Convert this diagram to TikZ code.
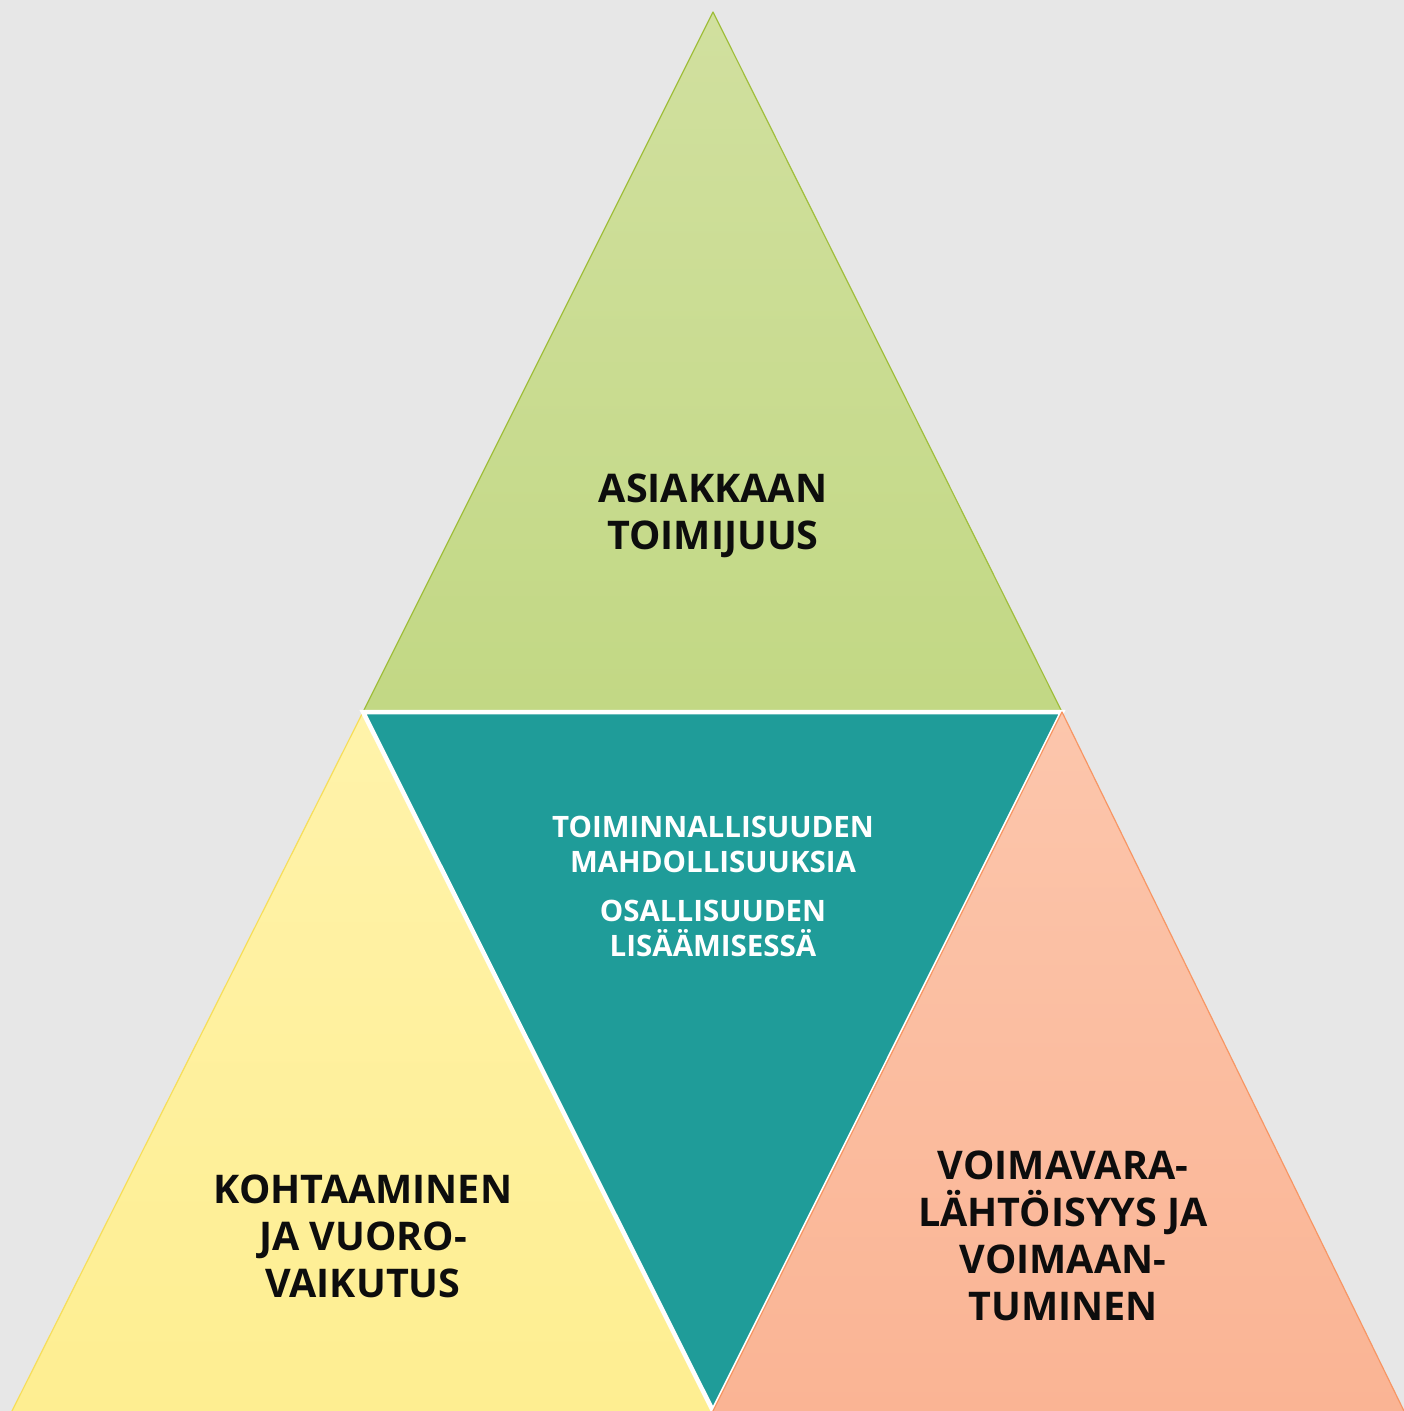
\documentclass[tikz,border=0pt]{standalone}
\usepackage{fontspec}
\setmainfont{Open Sans}
\begin{document}
\begin{tikzpicture}[x=1pt,y=-1pt,
  bigtext/.style={font=\fontsize{39.5}{47}\selectfont\bfseries, text=black!95, align=center, inner sep=0pt},
  smalltext/.style={font=\fontsize{29.5}{35}\selectfont\bfseries, text=white, align=center, inner sep=0pt}]
  % background
  \fill[fill={rgb,255:red,231;green,231;blue,231}] (0,0) rectangle (1404,1411);
  \useasboundingbox (0,0) rectangle (1404,1411);
  % corner points of the four triangles
  \coordinate (apex) at (713,12);
  \coordinate (ml) at (363,712);
  \coordinate (mr) at (1062,712);
  \coordinate (bl) at (12,1411);
  \coordinate (bm) at (713,1411);
  \coordinate (br) at (1404,1411);
  % top: green
  \shade[top color={rgb,255:red,209;green,224;blue,159}, bottom color={rgb,255:red,194;green,216;blue,132}]
    (apex) -- (mr) -- (ml) -- cycle;
  \draw[line width=1.2pt, color={rgb,255:red,160;green,190;blue,60}, line join=round] (ml) -- (apex) -- (mr);
  % bottom left: yellow
  \shade[top color={rgb,255:red,255;green,243;blue,170}, bottom color={rgb,255:red,254;green,238;blue,145}]
    (ml) -- (bm) -- (bl) -- cycle;
  \draw[line width=1.2pt, color={rgb,255:red,246;green,222;blue,90}] (ml) -- (bl);
  % centre: teal, inverted
  \fill[fill={rgb,255:red,31;green,156;blue,153}] (ml) -- (mr) -- (bm) -- cycle;
  \draw[white, line width=4.5pt, line join=miter] (bm) -- (ml) -- (mr) -- (bm);
  % bottom right: salmon
  \shade[top color={rgb,255:red,252;green,198;blue,172}, bottom color={rgb,255:red,250;green,180;blue,148}]
    (mr) -- (br) -- (bm) -- cycle;
  \draw[line width=1.2pt, color={rgb,255:red,247;green,150;blue,100}, line join=round] (bm) -- (mr) -- (br);
  % labels
  \node[bigtext] (top) at (713,516) {ASIAKKAAN\\TOIMIJUUS};
  \node[smalltext] (mid1) at (713,844) {TOIMINNALLISUUDEN\\MAHDOLLISUUKSIA};
  \node[smalltext] (mid2) at (713,928) {OSALLISUUDEN\\LISÄÄMISESSÄ};
  \node[bigtext] (left) at (363,1236) {KOHTAAMINEN\\JA VUORO-\\VAIKUTUS};
  \node[bigtext] (right) at (1063,1236) {VOIMAVARA-\\LÄHTÖISYYS JA\\VOIMAAN-\\TUMINEN};
\end{tikzpicture}
\end{document}
